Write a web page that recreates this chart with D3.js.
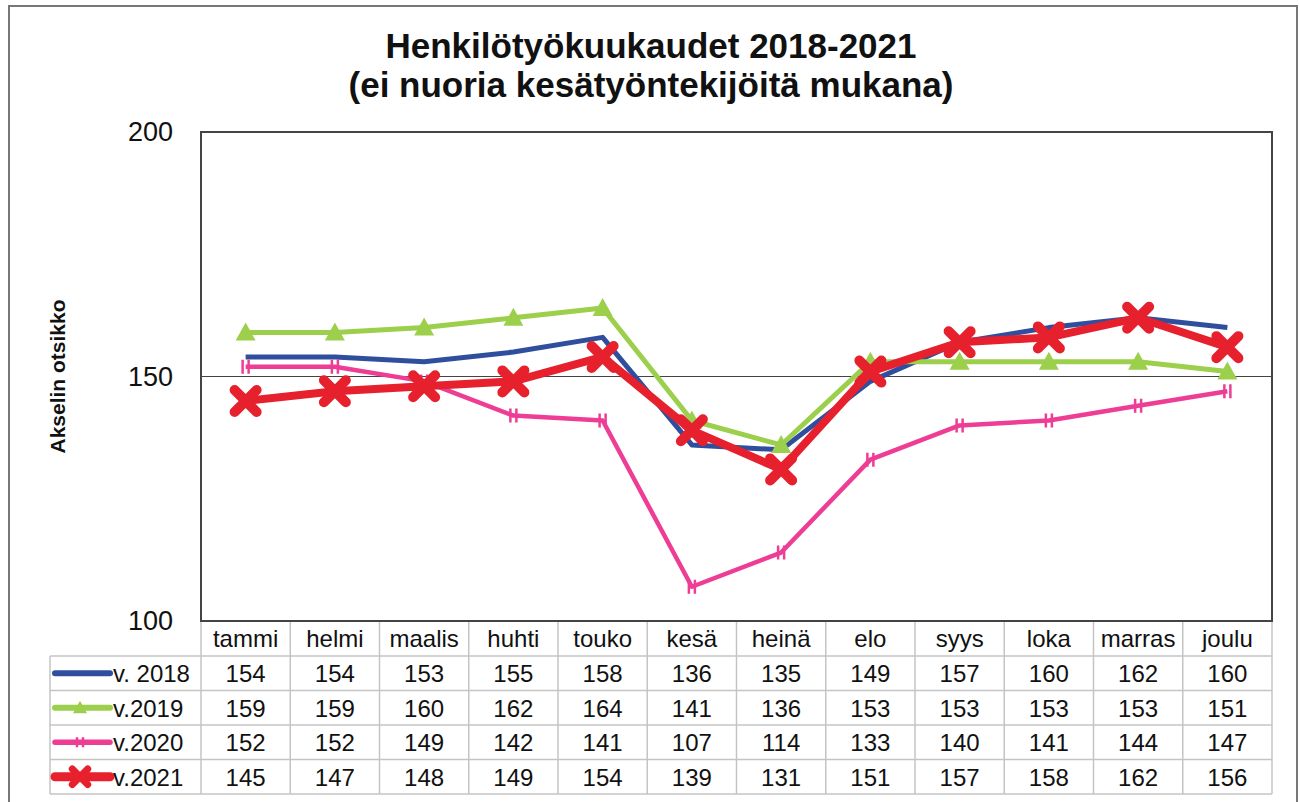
<!DOCTYPE html>
<html>
<head>
<meta charset="utf-8">
<script src="https://cdn.jsdelivr.net/npm/d3@7"></script>
<style>
  body { margin: 0; background: #fff; }
  text { font-family: "Liberation Sans", Arial, sans-serif; fill: #111; }
</style>
</head>
<body>
<div id="chart"></div>
<script>
// data
const months = ["tammi", "helmi", "maalis", "huhti", "touko", "kesä", "heinä", "elo", "syys", "loka", "marras", "joulu"];
const seriesNames = ["v. 2018", "v.2019", "v.2020", "v.2021"];
const v2018 = [154, 154, 153, 155, 158, 136, 135, 149, 157, 160, 162, 160];
const v2019 = [159, 159, 160, 162, 164, 141, 136, 153, 153, 153, 153, 151];
const v2020 = [152, 152, 149, 142, 141, 107, 114, 133, 140, 141, 144, 147];
const v2021 = [145, 147, 148, 149, 154, 139, 131, 151, 157, 158, 162, 156];
const yTicks = [100, 150, 200];

const width = 1300, height = 802;
const plot = { left: 201, right: 1272, top: 132, bottom: 621 };
const tableTop = 656, rowH = 34.5, tableLeft = 50;

const series = [
  { name: seriesNames[0], values: v2018, color: "#2f4f9e", width: 5, marker: "none" },
  { name: seriesNames[1], values: v2019, color: "#9ccf4c", width: 5, marker: "triangle" },
  { name: seriesNames[2], values: v2020, color: "#ee3d95", width: 4.5, marker: "tick" },
  { name: seriesNames[3], values: v2021, color: "#e6202c", width: 8, marker: "cross" }
];

let svg = d3.select("#chart")
  .append("svg")
  .attr("width", width)
  .attr("height", height);

// outer frame
svg.append("rect")
  .attr("x", 9).attr("y", 6)
  .attr("width", 1288).attr("height", 800)
  .attr("fill", "none")
  .attr("stroke", "#777")
  .attr("stroke-width", 2);

let x = d3.scaleBand()
  .domain(months)
  .range([plot.left, plot.right]);

let y = d3.scaleLinear()
  .domain([100, 200])
  .range([plot.bottom, plot.top]);

// gridline at 150
svg.append("line")
  .attr("x1", plot.left).attr("x2", plot.right)
  .attr("y1", y(150)).attr("y2", y(150))
  .attr("stroke", "#444").attr("stroke-width", 1.2);

// y axis labels
let yAxis = svg.append("g")
  .attr("transform", `translate(${plot.left}, 0)`)
  .call(d3.axisLeft(y).tickValues(yTicks).tickSize(0).tickPadding(28));
yAxis.select(".domain").remove();
yAxis.selectAll("text")
  .style("font-size", "27px")
  .style("font-family", "'Liberation Sans', Arial, sans-serif")
  .attr("fill", "#111");

// table grid
let grid = svg.append("g").attr("stroke", "#c4c4c4").attr("stroke-width", 1.5);
for (let i = 0; i <= seriesNames.length; i++) {
  grid.append("line")
    .attr("x1", tableLeft).attr("x2", plot.right)
    .attr("y1", tableTop + i * rowH).attr("y2", tableTop + i * rowH);
}
grid.append("line")
  .attr("x1", tableLeft).attr("x2", tableLeft)
  .attr("y1", tableTop).attr("y2", tableTop + 4 * rowH);
months.forEach((m, i) => {
  grid.append("line")
    .attr("x1", x(m)).attr("x2", x(m))
    .attr("y1", plot.bottom).attr("y2", tableTop + 4 * rowH);
});
grid.append("line")
  .attr("x1", plot.right).attr("x2", plot.right)
  .attr("y1", plot.bottom).attr("y2", tableTop + 4 * rowH);

// month labels
svg.selectAll(".month")
  .data(months)
  .enter()
  .append("text")
  .attr("class", "month")
  .attr("x", d => x(d) + x.bandwidth() / 2)
  .attr("y", 647)
  .style("text-anchor", "middle")
  .style("font-size", "24px")
  .text(d => d);

// markers
function drawMarker(g, type, color, cx, cy, scale) {
  if (type === "triangle") {
    let s = 10 * scale;
    g.append("path")
      .attr("d", `M${cx},${cy - s}L${cx + s},${cy + s * 0.8}L${cx - s},${cy + s * 0.8}Z`)
      .attr("fill", color);
  } else if (type === "tick") {
    let s = 7 * scale;
    g.append("path")
      .attr("d", `M${cx - 3},${cy - s}L${cx - 3},${cy + s}M${cx + 3},${cy - s}L${cx + 3},${cy + s}`)
      .attr("stroke", color).attr("stroke-width", 2.5);
  } else if (type === "cross") {
    let s = 11 * scale;
    g.append("path")
      .attr("d", `M${cx - s},${cy - s}L${cx + s},${cy + s}M${cx + s},${cy - s}L${cx - s},${cy + s}`)
      .attr("stroke", color).attr("stroke-width", 10 * scale).attr("stroke-linecap", "round");
  }
}

let line = d3.line()
  .x((d, i) => x(months[i]) + x.bandwidth() / 2)
  .y(d => y(d));

series.forEach(s => {
  let g = svg.append("g");
  g.append("path")
    .datum(s.values)
    .attr("d", line)
    .attr("fill", "none")
    .attr("stroke", s.color)
    .attr("stroke-width", s.width)
    .attr("stroke-linejoin", "round");
  s.values.forEach((v, i) => {
    drawMarker(g, s.marker, s.color, x(months[i]) + x.bandwidth() / 2, y(v), 1);
  });
});

// plot frame
svg.append("rect")
  .attr("x", plot.left).attr("y", plot.top)
  .attr("width", plot.right - plot.left).attr("height", plot.bottom - plot.top)
  .attr("fill", "none")
  .attr("stroke", "#444")
  .attr("stroke-width", 2);

// table rows
series.forEach((s, r) => {
  let cy = tableTop + r * rowH + rowH / 2;
  let g = svg.append("g");
  g.append("line")
    .attr("x1", 55).attr("x2", 110)
    .attr("y1", cy).attr("y2", cy)
    .attr("stroke", s.color).attr("stroke-width", s.width + 1)
    .attr("stroke-linecap", "round");
  drawMarker(g, s.marker, s.color, 80, cy, 0.7);
  g.append("text")
    .attr("x", 113).attr("y", cy + 9)
    .style("font-size", "24px")
    .text(s.name);
  g.selectAll(".val")
    .data(s.values)
    .enter()
    .append("text")
    .attr("x", (d, i) => x(months[i]) + x.bandwidth() / 2)
    .attr("y", cy + 9)
    .style("text-anchor", "middle")
    .style("font-size", "24px")
    .text(d => d);
});

// axis title
svg.append("text")
  .attr("transform", `translate(65, ${y(150)}) rotate(-90)`)
  .style("text-anchor", "middle")
  .style("font-size", "21px")
  .style("font-weight", "bold")
  .text("Akselin otsikko");

// chart title
svg.append("text")
  .attr("x", 651).attr("y", 58)
  .style("text-anchor", "middle")
  .style("font-size", "35px")
  .style("font-weight", "bold")
  .text("Henkilötyökuukaudet 2018-2021");
svg.append("text")
  .attr("x", 651).attr("y", 97)
  .style("text-anchor", "middle")
  .style("font-size", "35px")
  .style("font-weight", "bold")
  .text("(ei nuoria kesätyöntekijöitä mukana)");
</script>
</body>
</html>
